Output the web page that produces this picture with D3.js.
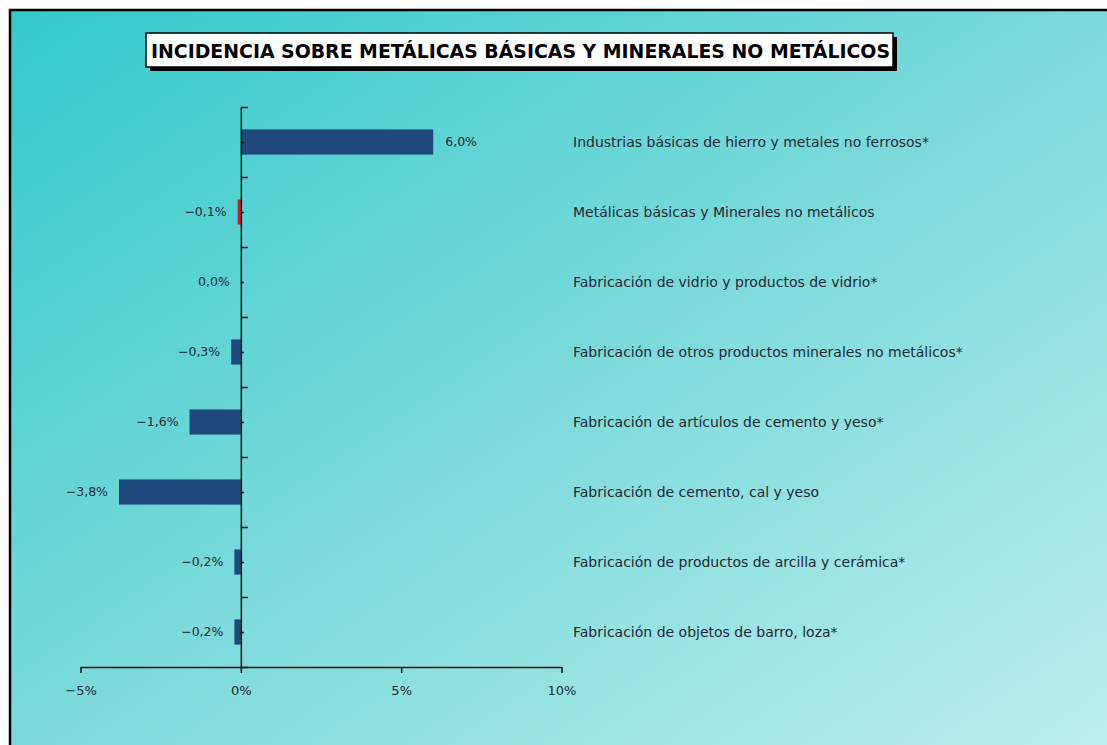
<!DOCTYPE html>
<html>
<head>
<meta charset="utf-8">
<script src="https://cdn.jsdelivr.net/npm/d3@7"></script>
<style>
  body { margin: 0; background: #fff; }
  svg { display: block; }
</style>
</head>
<body>
<svg id="chart" width="1107" height="745"></svg>
<script>
// datos
const categories = [
  "Industrias básicas de hierro y metales no ferrosos*",
  "Metálicas básicas y Minerales no metálicos",
  "Fabricación de vidrio y productos de vidrio*",
  "Fabricación de otros productos minerales no metálicos*",
  "Fabricación de artículos de cemento y yeso*",
  "Fabricación de cemento, cal y yeso",
  "Fabricación de productos de arcilla y cerámica*",
  "Fabricación de objetos de barro, loza*"
];
const values = [6.0, -0.1, 0.0, -0.3, -1.6, -3.8, -0.2, -0.2];
const highlight = [false, true, false, false, false, false, false, false];
const xTicks = [-5, 0, 5, 10];
const title = "INCIDENCIA SOBRE METÁLICAS BÁSICAS Y MINERALES NO METÁLICOS";

const svg = d3.select("#chart"),
    width = +svg.attr("width"),
    height = +svg.attr("height");

// fondo degradado
const grad = svg.append("defs").append("linearGradient")
    .attr("id", "bg")
    .attr("x1", 0).attr("y1", 0).attr("x2", 1).attr("y2", 1);
grad.append("stop").attr("offset", "0%").attr("stop-color", "#33cacc");
grad.append("stop").attr("offset", "50%").attr("stop-color", "#7cdadb");
grad.append("stop").attr("offset", "100%").attr("stop-color", "#beefef");

svg.append("rect")
    .attr("x", 10).attr("y", 10)
    .attr("width", width).attr("height", height)
    .attr("fill", "url(#bg)")
    .attr("stroke", "#000")
    .attr("stroke-width", 2.5);

// titulo con sombra
svg.append("rect")
    .attr("x", 150).attr("y", 37).attr("width", 747).attr("height", 34)
    .attr("fill", "#000");
svg.append("rect")
    .attr("x", 146).attr("y", 33).attr("width", 747).attr("height", 34)
    .attr("fill", "#fff").attr("stroke", "#000").attr("stroke-width", 1.5);
svg.append("text")
    .attr("x", 151).attr("y", 57.5)
    .attr("textLength", 739)
    .attr("lengthAdjust", "spacingAndGlyphs")
    .style("font-family", "'DejaVu Sans Condensed', 'Liberation Sans Narrow', sans-serif")
    .style("font-weight", "bold")
    .style("font-size", "20px")
    .attr("fill", "#000")
    .text(title);

// escalas
const x = d3.scaleLinear().domain([-5, 10]).range([80.5, 561.5]);
const yTop = 107, yBottom = 667;
const y = d3.scaleBand().domain(categories).range([yTop, yBottom]).paddingInner(0.64).paddingOuter(0.32);
const yLin = d3.scaleLinear().domain([0, categories.length]).range([yTop, yBottom]);

const textColor = "#1a2a33";
const fmt = v => (v < 0 ? "\u2212" : "") + Math.abs(v).toFixed(1).replace(".", ",") + "%";

// barras
svg.append("g").selectAll("rect")
    .data(values)
    .join("rect")
    .attr("x", d => x(Math.min(0, d)))
    .attr("y", (d, i) => y(categories[i]))
    .attr("width", d => Math.abs(x(d) - x(0)))
    .attr("height", y.bandwidth())
    .attr("fill", (d, i) => highlight[i] ? "#e0161c" : "#1f487c");

// etiquetas de valor
svg.append("g").selectAll("text")
    .data(values)
    .join("text")
    .attr("x", d => d > 0 ? x(d) + 12 : x(Math.min(0, d)) - 11)
    .attr("y", (d, i) => y(categories[i]) + y.bandwidth() / 2)
    .attr("dy", "0.35em")
    .attr("text-anchor", d => d > 0 ? "start" : "end")
    .style("font-family", "'DejaVu Sans', sans-serif")
    .style("font-size", "12.5px")
    .attr("fill", textColor)
    .text(fmt);

// nombres de categoria
svg.append("g").selectAll("text")
    .data(categories)
    .join("text")
    .attr("x", 573)
    .attr("y", d => y(d) + y.bandwidth() / 2)
    .attr("dy", "0.35em")
    .style("font-family", "'DejaVu Sans', sans-serif")
    .style("font-size", "14px")
    .attr("fill", textColor)
    .text(d => d);

// eje y: marcas en limites y centros
const yAxis = svg.append("g").attr("transform", "translate(" + x(0) + ",0)");
yAxis.call(d3.axisRight(yLin)
    .tickValues(d3.range(0, categories.length + 1))
    .tickSize(7).tickSizeOuter(0).tickFormat(""));
yAxis.append("g").call(d3.axisRight(yLin)
    .tickValues(d3.range(0.5, categories.length, 1))
    .tickSize(3).tickSizeOuter(0).tickFormat(""))
    .select(".domain").remove();
yAxis.selectAll("path, line").attr("stroke", "#111").attr("stroke-width", 1.5);

// eje x
const xAxis = svg.append("g").attr("transform", "translate(0," + yBottom + ")");
xAxis.call(d3.axisBottom(x)
    .tickValues(xTicks)
    .tickSize(6).tickSizeOuter(0).tickPadding(13)
    .tickFormat(d => (d < 0 ? "\u2212" : "") + Math.abs(d) + "%"));
xAxis.selectAll("path, line").attr("stroke", "#111").attr("stroke-width", 1.5);
xAxis.selectAll("text")
    .style("font-family", "'DejaVu Sans', sans-serif")
    .style("font-size", "13px")
    .attr("fill", textColor);
</script>
</body>
</html>
